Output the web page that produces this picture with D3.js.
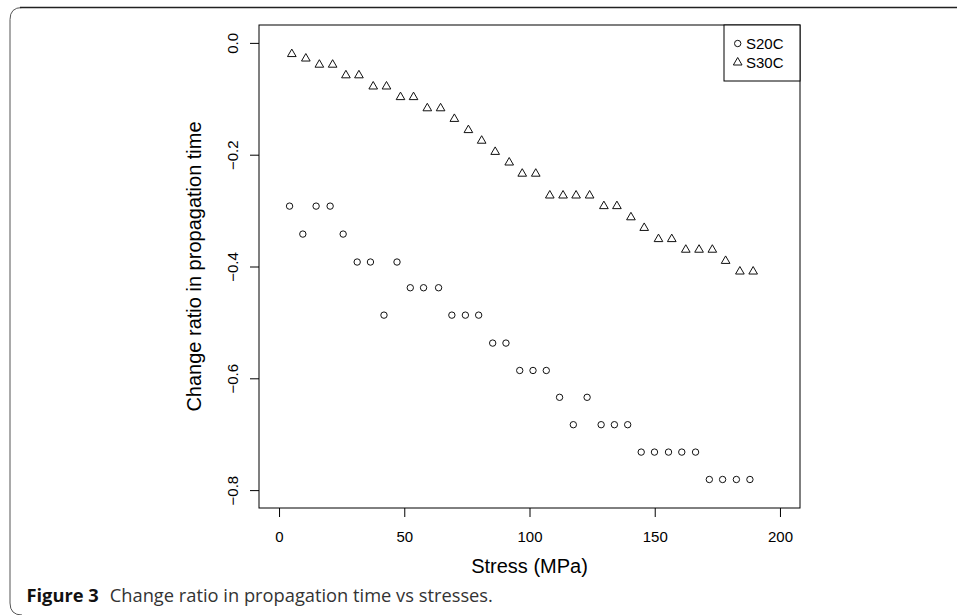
<!DOCTYPE html>
<html>
<head>
<meta charset="utf-8">
<script src="https://cdnjs.cloudflare.com/ajax/libs/d3/7.8.5/d3.min.js"></script>
<style>
  body { margin: 0; background: #fff; }
  svg { display: block; }
</style>
</head>
<body>
<svg id="chart" width="957" height="615"></svg>
<script>
// stress (MPa) and change ratio
var s20cStress = [4.2, 9.5, 14.8, 20.4, 25.6, 31.2, 36.5, 41.9, 47.1, 52.4, 57.7, 63.7, 69.0, 74.4, 79.7,
    85.3, 90.6, 96.1, 101.4, 106.7, 112.0, 117.5, 123.0, 128.6, 133.9, 139.2, 144.6, 149.9, 155.5,
    160.8, 166.3, 171.8, 177.1, 182.6, 188.0];
var s20cRatio = [-0.292, -0.342, -0.292, -0.292, -0.342, -0.392, -0.392, -0.487, -0.392, -0.438, -0.438,
    -0.438, -0.487, -0.487, -0.487, -0.537, -0.537, -0.586, -0.586, -0.586, -0.634, -0.683, -0.634,
    -0.683, -0.683, -0.683, -0.732, -0.732, -0.732, -0.732, -0.732, -0.781, -0.781, -0.781, -0.781];

var s30cStress = [5.1, 10.7, 16.1, 21.4, 26.7, 31.9, 37.6, 42.9, 48.5, 53.7, 59.2, 64.5, 70.0, 75.6, 80.9,
    86.3, 91.9, 97.1, 102.5, 108.1, 113.4, 118.6, 124.0, 129.7, 134.9, 140.5, 145.8, 151.5, 156.8,
    162.4, 167.7, 173.0, 178.3, 184.0, 189.3];
var s30cRatio = [-0.020, -0.028, -0.039, -0.039, -0.058, -0.058, -0.078, -0.078, -0.097, -0.097, -0.117,
    -0.117, -0.136, -0.156, -0.175, -0.195, -0.214, -0.234, -0.234, -0.273, -0.273, -0.273, -0.273,
    -0.292, -0.292, -0.312, -0.331, -0.351, -0.351, -0.370, -0.370, -0.370, -0.390, -0.409, -0.409];

var xTicks = [0, 50, 100, 150, 200];
var yTicks = [0, -0.2, -0.4, -0.6, -0.8];
var seriesNames = ['S20C', 'S30C'];

var svg = d3.select('#chart');

// figure frame (rounded corner top-left)
svg.append('path')
    .attr('d', 'M957,7.5 L22,7.5 Q10,7.5 10,19.5 L10,603 Q10,615 22,615')
    .attr('fill', 'none')
    .attr('stroke', '#555')
    .attr('stroke-width', 1);
svg.append('line')
    .attr('x1', 20).attr('x2', 957).attr('y1', 7.5).attr('y2', 7.5)
    .attr('stroke', '#222').attr('stroke-width', 1.6);

var pLeft = 259, pRight = 800, pTop = 25, pBottom = 508;

// R style: limits padded by 4%
var x = d3.scaleLinear().domain([-8, 208]).range([pLeft, pRight]);
var y = d3.scaleLinear().domain([-0.832, 0.032]).range([pBottom, pTop]);

var xAxis = svg.append('g')
    .attr('transform', 'translate(0,' + pBottom + ')')
    .call(d3.axisBottom(x).tickValues(xTicks).tickSize(9).tickSizeOuter(0).tickFormat(d3.format('d')));
xAxis.select('.domain').remove();
xAxis.selectAll('line').attr('stroke', '#000');
xAxis.selectAll('text')
    .attr('y', 34).attr('dy', 0)
    .attr('fill', '#000')
    .style('font-family', 'Liberation Sans, Arial, sans-serif')
    .style('font-size', '15px');

var yAxis = svg.append('g')
    .attr('transform', 'translate(' + pLeft + ',0)')
    .call(d3.axisLeft(y).tickValues(yTicks).tickSize(9).tickSizeOuter(0).tickFormat(d3.format('.1f')));
yAxis.select('.domain').remove();
yAxis.selectAll('line').attr('stroke', '#000');
yAxis.selectAll('text')
    .attr('x', 0).attr('dy', 0)
    .attr('transform', 'translate(-21.5,0) rotate(-90)')
    .attr('text-anchor', 'middle')
    .attr('fill', '#000')
    .style('font-family', 'Liberation Sans, Arial, sans-serif')
    .style('font-size', '15px');

// plot box
svg.append('rect')
    .attr('x', pLeft).attr('y', pTop)
    .attr('width', pRight - pLeft).attr('height', pBottom - pTop)
    .attr('fill', 'none').attr('stroke', '#000').attr('stroke-width', 1);

// axis titles
svg.append('text')
    .attr('x', (pLeft + pRight) / 2).attr('y', 573)
    .attr('text-anchor', 'middle')
    .style('font-family', 'Liberation Sans, Arial, sans-serif')
    .style('font-size', '20px')
    .text('Stress (MPa)');

svg.append('text')
    .attr('transform', 'translate(201,' + (pTop + pBottom) / 2 + ') rotate(-90)')
    .attr('text-anchor', 'middle')
    .style('font-family', 'Liberation Sans, Arial, sans-serif')
    .style('font-size', '20px')
    .text('Change ratio in propagation time');

var s20c = s20cStress.map(function(d, i) { return { x: d, y: s20cRatio[i] }; });
var s30c = s30cStress.map(function(d, i) { return { x: d, y: s30cRatio[i] }; });

var triangle = d3.symbol().type(d3.symbolTriangle).size(32.5);

svg.append('g').selectAll('circle')
    .data(s20c)
    .enter()
    .append('circle')
        .attr('cx', function(d) { return x(d.x); })
        .attr('cy', function(d) { return y(d.y); })
        .attr('r', 3.2)
        .attr('fill', 'none')
        .attr('stroke', '#111')
        .attr('stroke-width', 1);

svg.append('g').selectAll('path')
    .data(s30c)
    .enter()
    .append('path')
        .attr('d', triangle)
        .attr('transform', function(d) { return 'translate(' + x(d.x) + ',' + y(d.y) + ')'; })
        .attr('fill', 'none')
        .attr('stroke', '#111')
        .attr('stroke-width', 1);

// legend
var legend = svg.append('g');
legend.append('rect')
    .attr('x', 724).attr('y', pTop)
    .attr('width', pRight - 724).attr('height', 56)
    .attr('fill', '#fff').attr('stroke', '#000').attr('stroke-width', 1);
legend.append('circle')
    .attr('cx', 737.7).attr('cy', 43.5).attr('r', 3.2)
    .attr('fill', 'none').attr('stroke', '#111');
legend.append('path')
    .attr('d', triangle)
    .attr('transform', 'translate(737.7,62.5)')
    .attr('fill', 'none').attr('stroke', '#111');
legend.selectAll('text')
    .data(seriesNames)
    .enter()
    .append('text')
        .attr('x', 746)
        .attr('y', function(d, i) { return 49 + i * 18.5; })
        .style('font-family', 'Liberation Sans, Arial, sans-serif')
        .style('font-size', '15px')
        .text(function(d) { return d; });

// caption
var cap = svg.append('text')
    .attr('x', 26.5).attr('y', 602)
    .style('font-family', 'Open Sans, sans-serif')
    .style('font-size', '18.3px');
cap.append('tspan')
    .style('font-weight', 'bold')
    .attr('fill', '#111')
    .text('Figure 3');
cap.append('tspan')
    .attr('dx', 11)
    .attr('fill', '#333')
    .text('Change ratio in propagation time vs stresses.');
</script>
</body>
</html>
